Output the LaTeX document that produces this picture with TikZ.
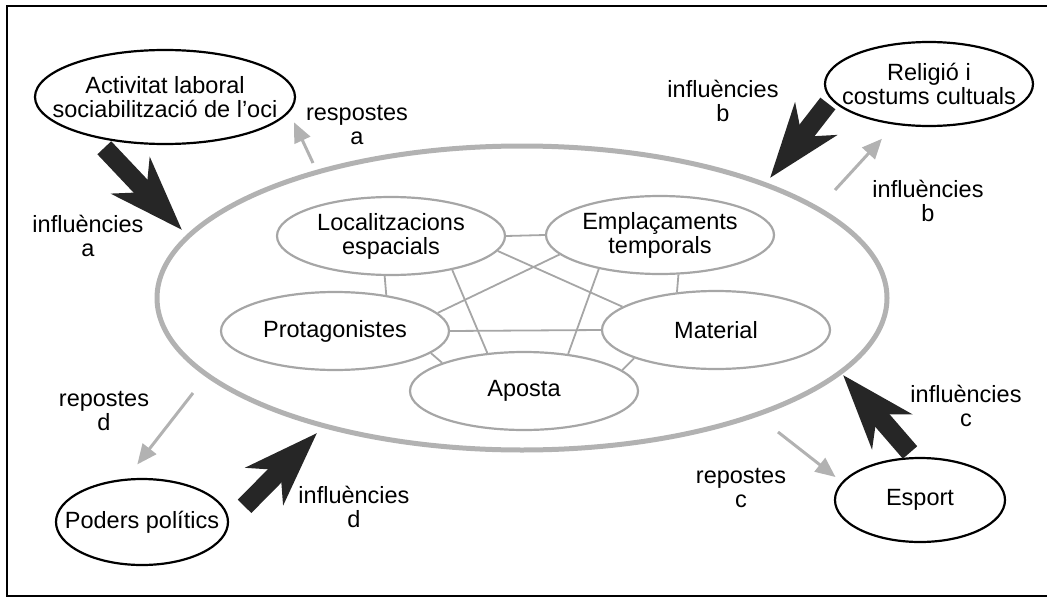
\documentclass[tikz,border=0pt]{standalone}
\usepackage{fontspec}
\setmainfont{Liberation Sans}
\usetikzlibrary{shapes.geometric,arrows.meta}
\tikzset{
    outer/.style={ellipse, draw=black, line width=2.2pt, inner xsep=-40pt, inner ysep=0pt, align=center},
    inner/.style={ellipse, draw=gray!70, line width=2.2pt, inner sep=0pt, align=center, minimum width=228pt, minimum height=78pt},
    link/.style={draw=gray!70, line width=1.8pt},
    bigarrow/.style={draw=black!85, line width=19pt, -{Stealth[length=74pt,width=52pt,inset=22pt]}},
    backarrow/.style={draw=gray!60, line width=3pt, -{Triangle[length=20pt,width=17pt]}},
    lbl/.style={align=center, inner sep=0pt}
}
\begin{document}
\begin{tikzpicture}[x=1pt, y=-1pt, font=\fontsize{23.5}{24}\selectfont]
            \useasboundingbox (0,0) rectangle (1047,597);
            \draw[line width=1.5pt] (1047,6) -- (7,6) -- (7,596) -- (1047,596);
            \node[ellipse, draw=gray!60, line width=5pt, minimum width=730pt, minimum height=304pt] (ctx) at (522,298) {};
            \node[inner] (loc) at (391,236) {Localitzacions\\espacials};
            \node[inner] (emp) at (660,235) {Emplaçaments\\temporals};
            \node[inner] (pro) at (335,331) {Protagonistes};
            \node[inner] (mat) at (716,330) {Material};
            \node[inner] (apo) at (524,391) {Aposta};
            \foreach \a/\b in {loc.east/emp.west, loc.-99/pro.35, loc.-29/apo.134, loc.-8/mat.166, emp.191/pro.10,
                    emp.209/apo.40, emp.-65/mat.136, pro.east/mat.west, pro.-13/apo.161, apo.12/mat.199}
                \draw[link] (\a) -- (\b);
            \node[outer, minimum width=260pt, minimum height=94pt] (act) at (165,97) {Activitat laboral\\sociabilització de l'oci};
            \node[outer, minimum width=208pt, minimum height=84pt] (rel) at (929,84) {Religió i\\costums cultuals};
            \node[outer, minimum width=172pt, minimum height=86pt] (pod) at (142,522) {Poders polítics};
            \node[outer, minimum width=170pt, minimum height=84pt] (esp) at (920,500) {Esport};
            \coordinate (ta) at (182,230);
            \coordinate (tb) at (770,178);
            \coordinate (tc) at (843,375);
            \coordinate (td) at (317,433);
            \coordinate (ra) at (313,163);
            \coordinate (rb) at (835,190);
            \coordinate (rc) at (778,432);
            \coordinate (rd) at (193,393);
            \draw[bigarrow, shorten <=14pt] (act.-150) -- (ta);
            \draw[bigarrow, shorten <=5pt] (rel.189) -- (tb);
            \draw[bigarrow, shorten <=6pt] (esp.98) -- (tc);
            \draw[bigarrow, shorten <=22pt] (pod.east) -- (td);
            \draw[backarrow, shorten >=11pt] (ra) -- (act.-7);
            \draw[backarrow, shorten >=19pt] (rb) -- (rel.-130);
            \draw[backarrow, shorten >=8pt] (rc) -- (esp.167);
            \draw[backarrow, shorten >=18pt] (rd) -- (pod.110);
            \node[lbl] (lia) at (88,236) {influències\\a};
            \node[lbl] (lra) at (357,125) {respostes\\a};
            \node[lbl] (lib) at (723,101) {influències\\b};
            \node[lbl] (lrb) at (928,201) {influències\\b};
            \node[lbl] (lic) at (966,406) {influències\\c};
            \node[lbl] (lrc) at (741,488) {repostes\\c};
            \node[lbl] (lid) at (354,507) {influències\\d};
            \node[lbl] (lrd) at (104,411) {repostes\\d};
        \end{tikzpicture}
\end{document}
